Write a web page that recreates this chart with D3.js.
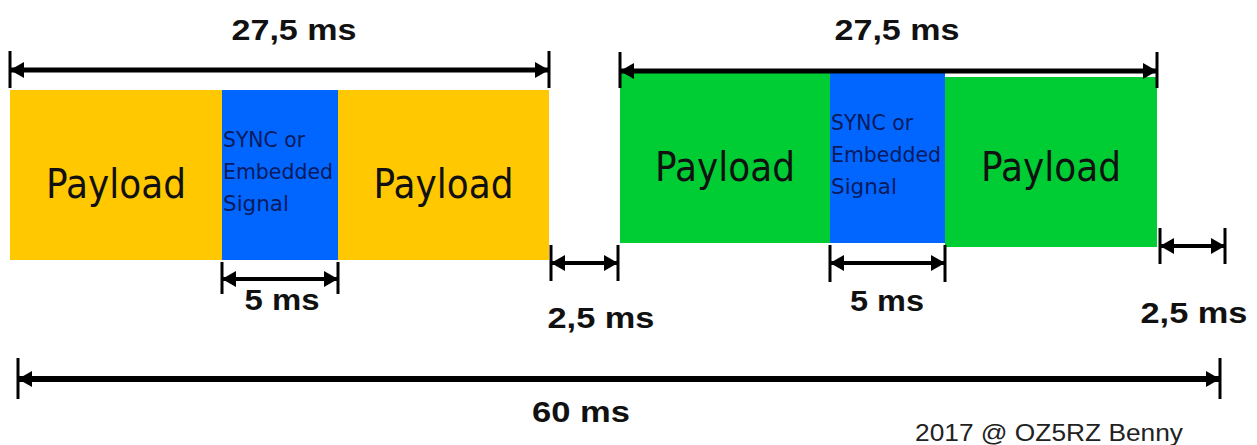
<!DOCTYPE html>
<html>
<head>
<meta charset="utf-8">
<script src="https://cdn.jsdelivr.net/npm/d3@7"></script>
<style>
  body { margin: 0; background: #fff; }
  .dim-label { font-family: "Liberation Sans", Arial, sans-serif; font-weight: bold; font-size: 29px; fill: #111; }
  .seg-label { font-family: "DejaVu Sans", sans-serif; fill: #111; }
  .credit { font-family: "Liberation Sans Narrow", "Liberation Sans", Arial, sans-serif; font-size: 24px; fill: #222; }
</style>
</head>
<body>
<svg id="chart"></svg>
<script>
// Timing data (ms)
const slotNames = ['Slot 1', 'Slot 2'];
const segmentNames = ['Payload', 'SYNC or Embedded Signal', 'Payload'];
const segmentMs = [11.25, 5, 11.25];
const guardMs = 2.5;
const frameMs = 60;
const slotLabel = '27,5 ms';
const syncLabel = '5 ms';
const guardLabel = '2,5 ms';
const frameLabel = '60 ms';
const creditText = '2017 @ OZ5RZ Benny';

const width = 1257, height = 445;

// build the segment list from the durations
let t = 0;
const segments = [];
slotNames.forEach((slot, si) => {
  segmentNames.forEach((name, k) => {
    segments.push({slot: si, kind: k === 1 ? 'sync' : 'payload', idx: k, name: name, start: t, end: t + segmentMs[k]});
    t += segmentMs[k];
  });
  segments.push({slot: si, kind: 'guard', name: 'guard', start: t, end: t + guardMs});
  t += guardMs;
});
const breaks = [0].concat(segments.map(d => d.end));

// the drawing is not to scale, so the scale is piecewise
const x = d3.scaleLinear()
    .domain(breaks)
    .range([10, 222, 338, 549, 620, 830, 945, 1157, 1228]);

const slotColors = ['#FFC800', '#00CC33'];
const syncColor = '#0066FF';
const slotTop = [90, 73];
const boxH = 170;

const svg = d3.select('#chart')
    .attr('width', width)
    .attr('height', height);

// arrow head (reversed automatically at the start)
svg.append('defs').append('marker')
    .attr('id', 'arrow')
    .attr('markerUnits', 'userSpaceOnUse')
    .attr('viewBox', '0 0 14 16')
    .attr('refX', 13)
    .attr('refY', 8)
    .attr('markerWidth', 14)
    .attr('markerHeight', 16)
    .attr('orient', 'auto-start-reverse')
  .append('path')
    .attr('d', 'M0,0 L14,8 L0,16 Z')
    .attr('fill', '#000');

// boxes
const boxes = segments.filter(d => d.kind !== 'guard');
svg.append('g').selectAll('rect')
    .data(boxes)
  .join('rect')
    .attr('x', d => x(d.start))
    .attr('y', d => slotTop[d.slot] + (d.slot === 1 && d.idx === 2 ? 4 : 0))
    .attr('width', d => x(d.end) - x(d.start))
    .attr('height', boxH)
    .attr('fill', d => d.kind === 'sync' ? syncColor : slotColors[d.slot]);

// payload labels
svg.append('g').selectAll('text')
    .data(boxes.filter(d => d.kind === 'payload'))
  .join('text')
    .attr('class', 'seg-label')
    .attr('x', d => (x(d.start) + x(d.end)) / 2 - 70)
    .attr('y', d => slotTop[d.slot] + 108)
    .attr('textLength', 140)
    .attr('lengthAdjust', 'spacingAndGlyphs')
    .style('font-size', '40px')
    .text(d => d.name);

// sync labels, three lines
const syncLines = ['SYNC or', 'Embedded', 'Signal'];
const syncLineW = [82, 110, 66];
boxes.filter(d => d.kind === 'sync').forEach(d => {
  svg.append('g').selectAll('text')
      .data(syncLines)
    .join('text')
      .attr('class', 'seg-label')
      .attr('x', x(d.start) + 1)
      .attr('y', (s, i) => slotTop[d.slot] + 57 + i * 32)
      .attr('textLength', (s, i) => syncLineW[i])
      .attr('lengthAdjust', 'spacingAndGlyphs')
      .style('font-size', '22px')
      .style('fill', '#0a1a5c')
      .text(s => s);
});

// dimension arrows
const slotSpan = i => segments.filter(d => d.slot === i && d.kind !== 'guard');
const syncSeg = i => segments.find(d => d.slot === i && d.kind === 'sync');
const guardSeg = i => segments.find(d => d.slot === i && d.kind === 'guard');

const dims = [
  {a: slotSpan(0)[0].start, b: slotSpan(0)[2].end, y: 70, t0: 51, t1: 88, w: 5, label: slotLabel, ty: 40, cx: 294, tw: 125},
  {a: slotSpan(1)[0].start, b: slotSpan(1)[2].end, y: 71, t0: 52, t1: 88, w: 5, label: slotLabel, ty: 40, cx: 897, tw: 125},
  {a: syncSeg(0).start, b: syncSeg(0).end, y: 279, t0: 262, t1: 294, w: 4, label: syncLabel, ty: 310, cx: 282, tw: 75},
  {a: syncSeg(1).start, b: syncSeg(1).end, y: 263, t0: 245, t1: 282, w: 4, label: syncLabel, ty: 311, cx: 887, tw: 74},
  {a: guardSeg(0).start, b: guardSeg(0).end, y: 263, t0: 245, t1: 281, w: 4, label: guardLabel, ty: 328, cx: 601, tw: 107, pad: 2},
  {a: guardSeg(1).start, b: guardSeg(1).end, y: 246, t0: 228, t1: 264, w: 4, label: guardLabel, ty: 323, cx: 1194, tw: 107, pad: 3},
  {a: 0, b: frameMs, y: 379, t0: 358, t1: 399, w: 6, label: frameLabel, ty: 422, cx: 581, tw: 98, pad: 8}
];

const dimG = svg.append('g').selectAll('g')
    .data(dims)
  .join('g');

dimG.append('line')
    .attr('x1', d => x(d.a) + (d.pad || 0) + 1)
    .attr('x2', d => x(d.b) - (d.pad || 0) - 1)
    .attr('y1', d => d.y)
    .attr('y2', d => d.y)
    .attr('stroke', '#000')
    .attr('stroke-width', d => d.w)
    .attr('marker-start', 'url(#arrow)')
    .attr('marker-end', 'url(#arrow)');

dimG.selectAll('.tick')
    .data(d => [{x: x(d.a) + (d.pad || 0), d: d}, {x: x(d.b) - (d.pad || 0), d: d}])
  .join('line')
    .attr('class', 'tick')
    .attr('x1', e => e.x)
    .attr('x2', e => e.x)
    .attr('y1', e => e.d.t0)
    .attr('y2', e => e.d.t1)
    .attr('stroke', '#000')
    .attr('stroke-width', 3);

dimG.append('text')
    .attr('class', 'dim-label')
    .attr('x', d => d.cx - d.tw / 2)
    .attr('y', d => d.ty)
    .attr('textLength', d => d.tw)
    .attr('lengthAdjust', 'spacingAndGlyphs')
    .text(d => d.label);

// credit
svg.append('text')
    .attr('class', 'credit')
    .attr('x', 915)
    .attr('y', 441)
    .attr('textLength', 268)
    .attr('lengthAdjust', 'spacingAndGlyphs')
    .text(creditText);
</script>
</body>
</html>
